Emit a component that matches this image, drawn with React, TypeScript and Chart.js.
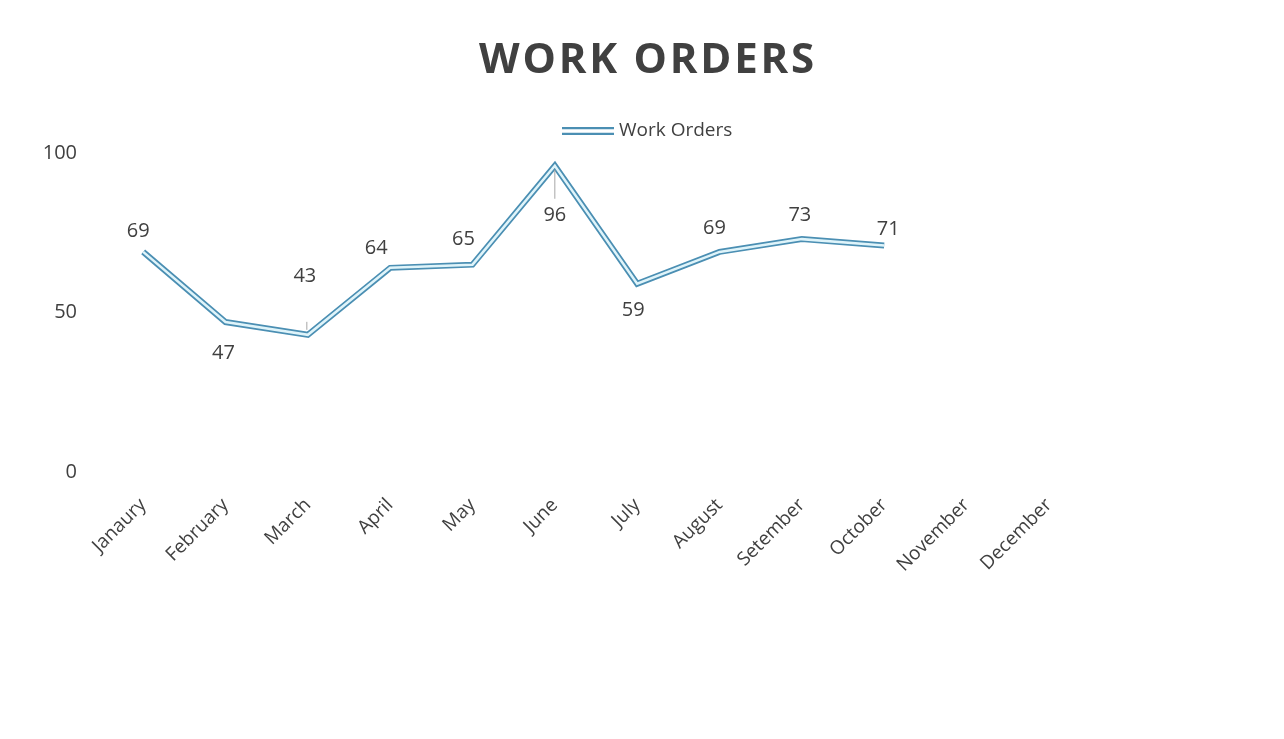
import React, { useEffect, useRef } from 'react';
import { Chart, registerables } from 'chart.js';

Chart.register(...registerables);

const TITLE = 'WORK ORDERS';
const SERIES_NAME = 'Work Orders';
const categories = ['Janaury', 'February', 'March', 'April', 'May', 'June', 'July', 'August', 'Setember', 'October', 'November', 'December'];
const workOrders: (number | null)[] = [69, 47, 43, 64, 65, 96, 59, 69, 73, 71, null, null];
const yTicks = [0, 50, 100];

const TEXT = '#404040';
const BLUE = '#4b8fb3';
const INNER = '#dff4fa';
const FONT = '"Open Sans", "DejaVu Sans", sans-serif';

// label offsets (styling only): [dx, dy, leader]
const labelOffsets: [number, number, number][] = [
  [-5, -21, 0], [-2, 31, 0], [-3, -59, 1], [-14, -20, 0], [-9, -25, 0],
  [0, 50, 2], [-4, 27, 0], [-5, -24, 0], [-2, -24, 0], [4, -16, 0], [0, 0, 0], [0, 0, 0],
];

const decor = {
  id: 'decor',
  afterDraw(chart: any) {
    const ctx = chart.ctx as CanvasRenderingContext2D;
    ctx.save();
    // title
    ctx.font = `bold 42px ${FONT}`;
    ctx.fillStyle = TEXT;
    ctx.textAlign = 'center';
    ctx.textBaseline = 'middle';
    (ctx as any).letterSpacing = '2.8px';
    ctx.fillText(TITLE, 648, 61);
    (ctx as any).letterSpacing = '0px';
    // legend
    ctx.strokeStyle = BLUE;
    ctx.lineWidth = 8;
    ctx.beginPath();
    ctx.moveTo(562, 131);
    ctx.lineTo(614, 131);
    ctx.stroke();
    ctx.strokeStyle = '#ffffff';
    ctx.lineWidth = 3.5;
    ctx.beginPath();
    ctx.moveTo(561, 131);
    ctx.lineTo(615, 131);
    ctx.stroke();
    ctx.font = `19px ${FONT}`;
    ctx.fillStyle = TEXT;
    ctx.textAlign = 'left';
    ctx.fillText(SERIES_NAME, 619, 131);
    // data labels
    const meta = chart.getDatasetMeta(0);
    ctx.font = `20px ${FONT}`;
    ctx.textAlign = 'center';
    meta.data.forEach((pt: any, i: number) => {
      const v = workOrders[i];
      if (v == null) return;
      const [dx, dy, leader] = labelOffsets[i];
      if (leader) {
        ctx.strokeStyle = '#a6a6a6';
        ctx.lineWidth = 1;
        ctx.beginPath();
        if (leader === 2) {
          ctx.moveTo(pt.x, pt.y + 4);
          ctx.lineTo(pt.x, pt.y + 33);
        } else {
          ctx.moveTo(pt.x - 1, pt.y - 13);
          ctx.lineTo(pt.x - 1, pt.y - 5);
        }
        ctx.stroke();
      }
      ctx.fillStyle = TEXT;
      ctx.fillText(String(v), pt.x + dx, pt.y + dy);
    });
    ctx.restore();
  },
};

export default function App() {
  const ref = useRef<HTMLCanvasElement>(null);
  useEffect(() => {
    if (!ref.current) return;
    const chart = new Chart(ref.current, {
      type: 'line',
      data: {
        labels: categories,
        datasets: [
          {
            label: SERIES_NAME,
            data: workOrders,
            borderColor: BLUE,
            borderWidth: 6,
            pointRadius: 0,
            tension: 0,
            fill: false,
            borderJoinStyle: 'miter',
            order: 2,
          },
          {
            label: SERIES_NAME + ' inner',
            data: workOrders,
            borderColor: INNER,
            borderWidth: 2.5,
            pointRadius: 0,
            tension: 0,
            fill: false,
            borderJoinStyle: 'miter',
            order: 1,
          },
        ],
      },
      options: {
        animation: false,
        responsive: true,
        maintainAspectRatio: false,
        layout: { padding: { top: 153, right: 194, bottom: 0, left: 0 } },
        plugins: {
          legend: { display: false },
          title: { display: false },
          tooltip: { enabled: false },
        },
        scales: {
          x: {
            offset: true,
            grid: { display: false },
            border: { display: false },
            ticks: {
              autoSkip: false,
              maxRotation: 45,
              minRotation: 45,
              padding: 14,
              color: TEXT,
              font: { family: FONT, size: 19 },
            },
            afterFit: (s: any) => { s.height = 267; },
          },
          y: {
            min: 0,
            max: 100,
            afterBuildTicks: (s: any) => { s.ticks = yTicks.map((v) => ({ value: v })); },
            grid: { display: false },
            border: { display: false },
            ticks: { padding: 17, color: TEXT, font: { family: FONT, size: 20 } },
            afterFit: (s: any) => { s.width = 102; },
          },
        },
      },
      plugins: [decor],
    });
    return () => chart.destroy();
  }, []);
  return (
    <div style={{ position: 'absolute', left: 0, top: 0, width: 1284, height: 739, background: '#fff' }}>
      <canvas ref={ref} />
    </div>
  );
}
